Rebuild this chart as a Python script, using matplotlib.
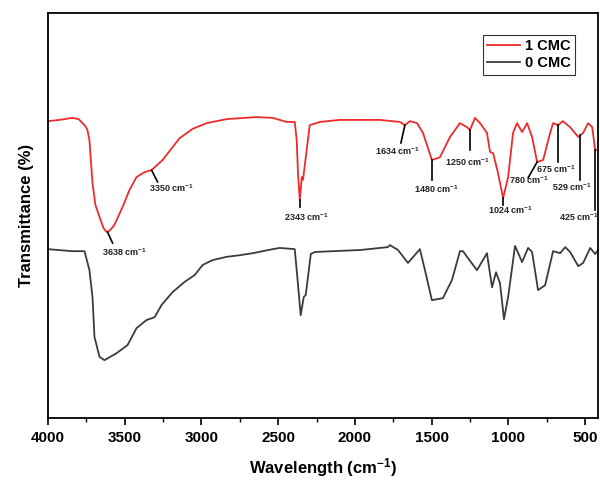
import numpy as np
import matplotlib
matplotlib.use('Agg')
import matplotlib.pyplot as plt
from matplotlib.ticker import MultipleLocator

plt.rcParams['font.family'] = ['Liberation Sans', 'DejaVu Sans']
plt.rcParams['mathtext.fontset'] = 'custom'
plt.rcParams['mathtext.rm'] = 'Liberation Sans'
plt.rcParams['mathtext.bf'] = 'Liberation Sans:bold'
plt.rcParams['mathtext.default'] = 'regular'

# FTIR spectra (wavenumber in cm-1, transmittance in arbitrary %)
wn_1cmc = [4000, 3926, 3841, 3800, 3775, 3755, 3743, 3730, 3710, 3691, 3664, 3638, 3625,
           3612, 3590, 3567, 3514, 3469, 3423, 3371, 3325, 3253, 3208, 3142, 3057, 2966,
           2836, 2640, 2535, 2444, 2392, 2379, 2370, 2359, 2346, 2338, 2314, 2294, 2228,
           2100, 1837, 1706, 1674, 1641, 1595, 1556, 1498, 1445, 1380, 1315, 1269, 1250,
           1217, 1184, 1139, 1119, 1099, 1067, 1034, 1001, 969, 943, 910, 877, 845,
           812, 773, 727, 708, 675, 645, 597, 544, 512, 480, 453, 434, 405]
t_1cmc = [73.3, 73.6, 74.1, 73.8, 72.8, 72.0, 71.1, 68.6, 58.0, 52.6, 49.6, 46.9, 46.2,
          45.9, 46.6, 47.7, 52.1, 56.3, 59.5, 60.7, 61.2, 63.7, 65.9, 69.1, 71.4, 72.8,
          73.8, 74.3, 74.1, 73.1, 73.1, 68.6, 60.0, 53.8, 59.5, 58.8, 66.2, 72.3, 73.1,
          73.6, 73.6, 73.1, 72.3, 73.3, 72.8, 70.4, 63.7, 64.4, 69.4, 72.8, 71.8, 71.1,
          74.1, 72.8, 70.4, 65.7, 65.4, 60.5, 54.3, 59.5, 70.4, 72.8, 70.6, 72.8, 69.4,
          63.2, 63.7, 70.4, 72.8, 72.3, 73.3, 71.8, 69.4, 70.4, 72.8, 71.8, 66.2, 66.2]

wn_0cmc = [4000, 3841, 3762, 3730, 3710, 3697, 3664, 3632, 3554, 3482, 3423, 3358,
           3305, 3260, 3188, 3110, 3044, 2992, 2927, 2836, 2751, 2666, 2535, 2490,
           2392, 2379, 2353, 2333, 2320, 2287, 2261, 1961, 1785, 1772, 1719, 1654,
           1576, 1543, 1498, 1426, 1367, 1315, 1295, 1263, 1204, 1139, 1106, 1080,
           1054, 1028, 1001, 956, 910, 871, 845, 806, 760, 708, 662, 629, 597, 544,
           512, 466, 434, 414, 405]
t_0cmc = [41.7, 41.2, 41.2, 36.5, 29.9, 20.0, 15.1, 14.3, 16.0, 18.0, 22.2, 24.2,
          24.9, 27.9, 31.1, 33.6, 35.3, 37.8, 39.0, 39.8, 40.2, 40.7, 41.7, 42.0,
          41.7, 36.5, 25.4, 29.9, 30.4, 40.5, 41.0, 41.5, 42.2, 42.7, 41.5, 38.3,
          41.7, 36.5, 29.1, 29.6, 34.1, 41.2, 41.2, 39.5, 36.5, 40.7, 32.3, 36.0,
          33.3, 24.4, 29.9, 42.5, 38.5, 42.0, 41.0, 31.6, 32.8, 41.2, 40.7, 42.2, 41.0, 37.5,
          38.3, 42.0, 40.5, 41.5, 42.0]

# peak labels on the 1 CMC curve and where their leader lines touch the curve
peak_labels = ['3638', '3350', '2343', '1634', '1480', '1250', '1024', '780', '675', '529', '425']
peak_wn = [3612, 3325, 2359, 1674, 1498, 1250, 1034, 812, 675, 531, 434]

# leader line end points and label centres (layout)
line_end = [(3579, 43.2), (3286, 58.3), (2359, 52.1), (1700, 67.9), (1498, 58.8),
            (1250, 66.2), (1034, 52.6), (871, 59.3), (675, 63.2), (531, 58.8), (434, 51.4)]
text_pos = [(3501, 41.0), (3194, 56.8), (2319, 49.6), (1720, 65.9), (1471, 56.5),
            (1269, 63.2), (988, 51.4), (864, 58.8), (688, 61.5), (584, 57.0), (538, 49.6)]

fig = plt.figure(figsize=(6, 4.8), dpi=100)
ax = fig.add_axes([0.08, 0.129, 0.917, 0.844])

ax.plot(wn_1cmc, t_1cmc, color='#ee2b2b', lw=1.3, label='1 CMC')
ax.plot(wn_0cmc, t_0cmc, color='#3c3c3c', lw=1.3, label='0 CMC')

for lab, w, (ex, ey), (tx, ty) in zip(peak_labels, peak_wn, line_end, text_pos):
    y0 = np.interp(w, wn_1cmc[::-1], t_1cmc[::-1])
    ax.plot([w, ex], [y0, ey], color='black', lw=1.2)
    ax.text(tx, ty, lab + r' cm$\mathbf{^{-1}}$', fontsize=6.5, fontweight='bold',
            color='#222222', ha='center', va='center')

ax.set_xlim(4000, 414)
ax.set_ylim(0, 100)
ax.xaxis.set_major_locator(MultipleLocator(500))
ax.xaxis.set_minor_locator(MultipleLocator(250))
ax.set_yticks([])
ax.tick_params(axis='x', which='major', direction='out', length=5, width=1.2,
               labelsize=11, pad=4)
ax.tick_params(axis='x', which='minor', direction='out', length=3, width=1.0)
for lbl in ax.get_xticklabels():
    lbl.set_fontweight('bold')
for sp in ax.spines.values():
    sp.set_linewidth(1.3)

ax.set_xlabel(r'Wavelength (cm$\mathbf{^{-1}}$)', fontsize=12, fontweight='bold', labelpad=8)
ax.set_ylabel('Transmittance (%)', fontsize=12, fontweight='bold', labelpad=10)

leg = ax.legend(loc='upper right', bbox_to_anchor=(0.958, 0.946),
                prop={'weight': 'bold', 'size': 10.5}, frameon=True, fancybox=False,
                handlelength=2.3, handletextpad=0.3, borderpad=0.3,
                labelspacing=0.2, borderaxespad=0)
leg.get_frame().set_edgecolor('black')
leg.get_frame().set_linewidth(0.8)

fig.savefig('out.png', dpi=100)
